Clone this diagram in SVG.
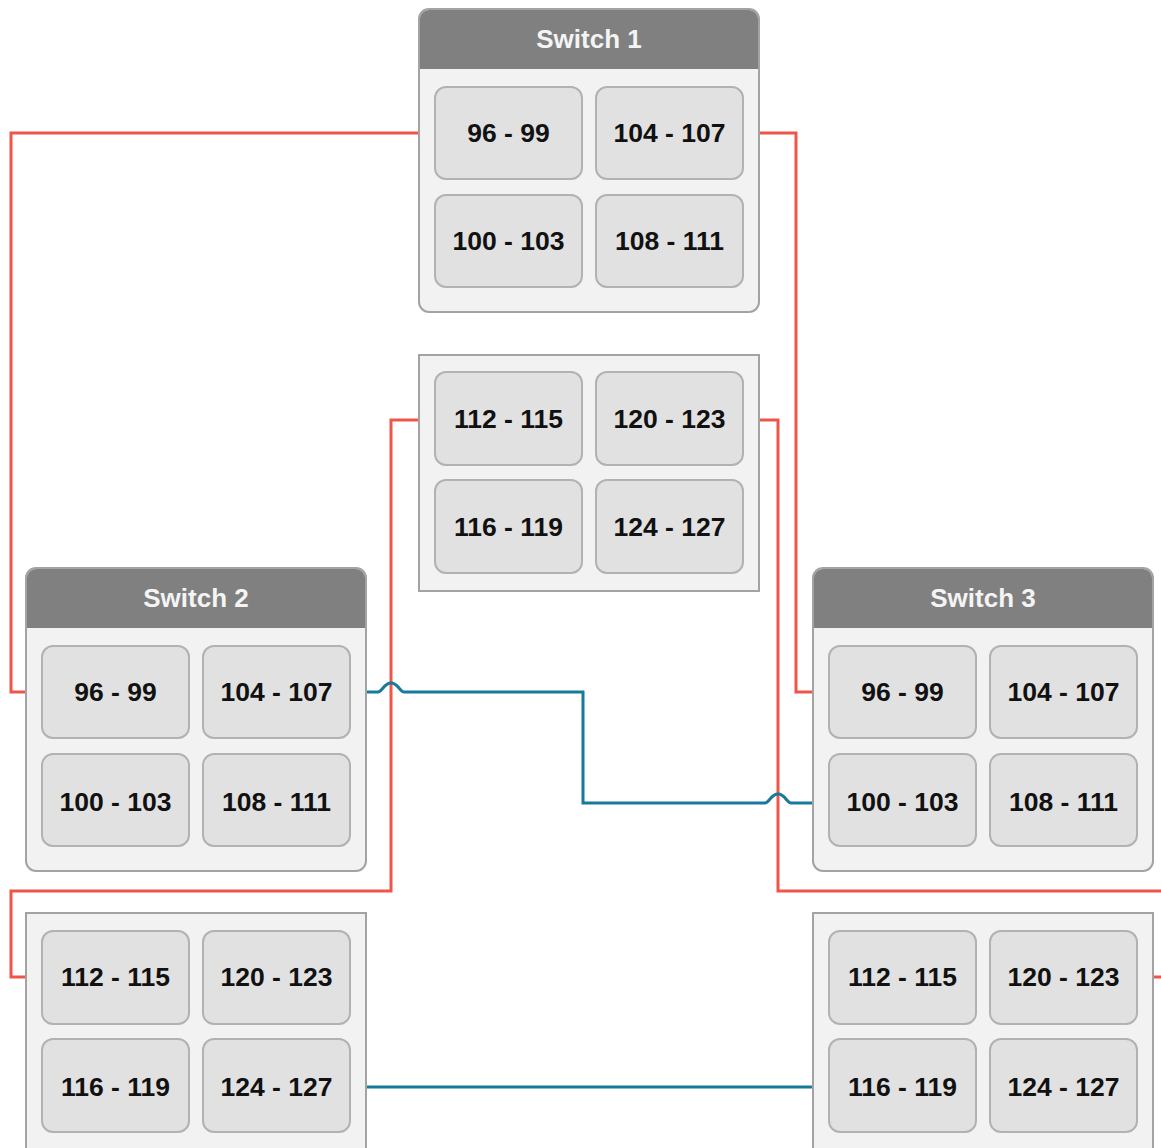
<svg xmlns="http://www.w3.org/2000/svg" width="1161" height="1148" viewBox="0 0 1161 1148">
<style>
.box{fill:#f1f2f1;stroke:#a3a3a3;stroke-width:2}
.hdr{fill:#808080}
.port{fill:#e1e1e1;stroke:#b2b2b2;stroke-width:2}
.lbl{font-family:"Liberation Sans",Arial,Helvetica,sans-serif;font-weight:bold;font-size:26.5px;fill:#111;text-anchor:middle}
.title{font-family:"Liberation Sans",Arial,Helvetica,sans-serif;font-weight:bold;font-size:26px;fill:#f4f4f4;text-anchor:middle}
.red{fill:none;stroke:#ef5548;stroke-width:3}
.blue{fill:none;stroke:#17799b;stroke-width:3}
</style>
<rect width="1161" height="1148" fill="#ffffff"/>
<g id="connectors">
<path class="red" d="M435,133 H11 V692 H42"/>
<path class="red" d="M743,133 H796 V692 H829"/>
<path class="red" d="M435,420 H391 V891 H11 V977 H42"/>
<path class="red" d="M743,420 H778 V891 H1161 M1161,977 H1137"/>
<path class="blue" d="M350,692 H378 C382,692 384,683 391,683 C398,683 400,692 404,692 H583 V803 H765 C769,803 771,794 778,794 C785,794 787,803 791,803 H829"/>
<path class="blue" d="M350,1087 H829"/>
</g>
<g id="switch1">
<rect class="box" x="419" y="9" width="340" height="303" rx="10"/>
<path class="hdr" d="M420,69 V19 A9,9 0 0 1 429,10 H749 A9,9 0 0 1 758,19 V69 Z"/>
<text class="title" x="589" y="48">Switch 1</text>
<g id="s1-96-99"><rect class="port" x="435" y="87" width="147" height="92" rx="11"/><text class="lbl" x="508.5" y="142">96 - 99</text></g>
<g id="s1-104-107"><rect class="port" x="596" y="87" width="147" height="92" rx="11"/><text class="lbl" x="669.5" y="142">104 - 107</text></g>
<g id="s1-100-103"><rect class="port" x="435" y="195" width="147" height="92" rx="11"/><text class="lbl" x="508.5" y="250">100 - 103</text></g>
<g id="s1-108-111"><rect class="port" x="596" y="195" width="147" height="92" rx="11"/><text class="lbl" x="669.5" y="250">108 - 111</text></g>
</g>
<g id="switch1-ext">
<rect class="box" x="419" y="355" width="340" height="236"/>
<g id="s1-112-115"><rect class="port" x="435" y="372" width="147" height="93" rx="11"/><text class="lbl" x="508.5" y="428">112 - 115</text></g>
<g id="s1-120-123"><rect class="port" x="596" y="372" width="147" height="93" rx="11"/><text class="lbl" x="669.5" y="428">120 - 123</text></g>
<g id="s1-116-119"><rect class="port" x="435" y="480" width="147" height="93" rx="11"/><text class="lbl" x="508.5" y="536">116 - 119</text></g>
<g id="s1-124-127"><rect class="port" x="596" y="480" width="147" height="93" rx="11"/><text class="lbl" x="669.5" y="536">124 - 127</text></g>
</g>
<g id="switch2">
<rect class="box" x="26" y="568" width="340" height="303" rx="10"/>
<path class="hdr" d="M27,628 V578 A9,9 0 0 1 36,569 H356 A9,9 0 0 1 365,578 V628 Z"/>
<text class="title" x="196" y="607">Switch 2</text>
<g id="s2-96-99"><rect class="port" x="42" y="646" width="147" height="92" rx="11"/><text class="lbl" x="115.5" y="701">96 - 99</text></g>
<g id="s2-104-107"><rect class="port" x="203" y="646" width="147" height="92" rx="11"/><text class="lbl" x="276.5" y="701">104 - 107</text></g>
<g id="s2-100-103"><rect class="port" x="42" y="754" width="147" height="92" rx="11"/><text class="lbl" x="115.5" y="811">100 - 103</text></g>
<g id="s2-108-111"><rect class="port" x="203" y="754" width="147" height="92" rx="11"/><text class="lbl" x="276.5" y="811">108 - 111</text></g>
</g>
<g id="switch3">
<rect class="box" x="813" y="568" width="340" height="303" rx="10"/>
<path class="hdr" d="M814,628 V578 A9,9 0 0 1 823,569 H1143 A9,9 0 0 1 1152,578 V628 Z"/>
<text class="title" x="983" y="607">Switch 3</text>
<g id="s3-96-99"><rect class="port" x="829" y="646" width="147" height="92" rx="11"/><text class="lbl" x="902.5" y="701">96 - 99</text></g>
<g id="s3-104-107"><rect class="port" x="990" y="646" width="147" height="92" rx="11"/><text class="lbl" x="1063.5" y="701">104 - 107</text></g>
<g id="s3-100-103"><rect class="port" x="829" y="754" width="147" height="92" rx="11"/><text class="lbl" x="902.5" y="811">100 - 103</text></g>
<g id="s3-108-111"><rect class="port" x="990" y="754" width="147" height="92" rx="11"/><text class="lbl" x="1063.5" y="811">108 - 111</text></g>
</g>
<g id="switch2-ext">
<rect class="box" x="26" y="913" width="340" height="245"/>
<g id="s2-112-115"><rect class="port" x="42" y="931" width="147" height="93" rx="11"/><text class="lbl" x="115.5" y="986">112 - 115</text></g>
<g id="s2-120-123"><rect class="port" x="203" y="931" width="147" height="93" rx="11"/><text class="lbl" x="276.5" y="986">120 - 123</text></g>
<g id="s2-116-119"><rect class="port" x="42" y="1039" width="147" height="93" rx="11"/><text class="lbl" x="115.5" y="1096">116 - 119</text></g>
<g id="s2-124-127"><rect class="port" x="203" y="1039" width="147" height="93" rx="11"/><text class="lbl" x="276.5" y="1096">124 - 127</text></g>
</g>
<g id="switch3-ext">
<rect class="box" x="813" y="913" width="340" height="245"/>
<g id="s3-112-115"><rect class="port" x="829" y="931" width="147" height="93" rx="11"/><text class="lbl" x="902.5" y="986">112 - 115</text></g>
<g id="s3-120-123"><rect class="port" x="990" y="931" width="147" height="93" rx="11"/><text class="lbl" x="1063.5" y="986">120 - 123</text></g>
<g id="s3-116-119"><rect class="port" x="829" y="1039" width="147" height="93" rx="11"/><text class="lbl" x="902.5" y="1096">116 - 119</text></g>
<g id="s3-124-127"><rect class="port" x="990" y="1039" width="147" height="93" rx="11"/><text class="lbl" x="1063.5" y="1096">124 - 127</text></g>
</g>
</svg>
